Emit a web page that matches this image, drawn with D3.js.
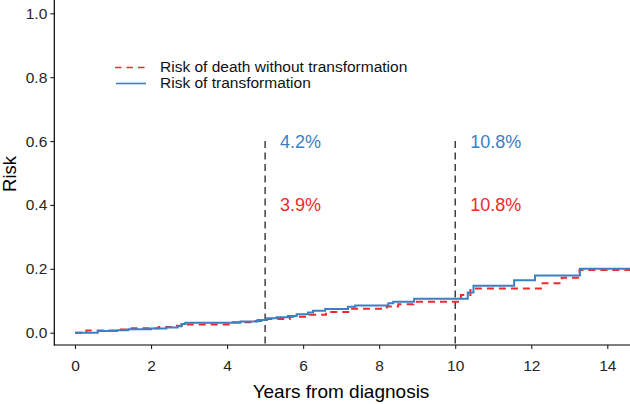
<!DOCTYPE html>
<html>
<head>
<meta charset="utf-8">
<script src="https://cdn.jsdelivr.net/npm/d3@7/dist/d3.min.js"></script>
<style>
  html, body { margin: 0; padding: 0; background: #fff; }
  svg { display: block; font-family: "Liberation Sans", Arial, sans-serif; }
</style>
</head>
<body>
<svg id="chart" width="630" height="404"></svg>
<script>
// ---- data ----
const transTimes = [0, 0.6, 1.1, 1.4, 2.0, 2.4, 2.7, 2.8, 2.9, 4.35, 4.8, 5.04, 5.3, 5.6, 5.83, 6.13, 6.26, 6.58, 7.18, 7.37, 8.24, 8.37, 8.92, 10.33, 10.48, 11.55, 12.1, 13.28, 14.6];
const transRisk  = [0, 0.005, 0.008, 0.011, 0.013, 0.016, 0.020, 0.027, 0.031, 0.035, 0.040, 0.045, 0.048, 0.052, 0.058, 0.063, 0.069, 0.074, 0.081, 0.085, 0.092, 0.097, 0.106, 0.126, 0.147, 0.164, 0.179, 0.200, 0.200];
const deathTimes = [0, 0.3, 1.1, 1.45, 2.2, 2.6, 2.85, 4.15, 4.75, 5.05, 5.65, 6.05, 6.6, 7.25, 8.2, 8.5, 8.9, 10.15, 10.4, 12.3, 12.8, 13.27, 14.6];
const deathRisk  = [0, 0.007, 0.010, 0.014, 0.018, 0.022, 0.026, 0.033, 0.037, 0.043, 0.050, 0.056, 0.065, 0.075, 0.082, 0.089, 0.097, 0.118, 0.138, 0.155, 0.172, 0.196, 0.196];
const xTicks = [0, 2, 4, 6, 8, 10, 12, 14];
const yTicks = [0, 0.2, 0.4, 0.6, 0.8, 1.0];
const markerYears = [5, 10];
const markerTop = 0.6;
const transLabels = ["4.2%", "10.8%"];
const deathLabels = ["3.9%", "10.8%"];
const seriesNames = ["Risk of death without transformation", "Risk of transformation"];

// ---- styles ----
const blue = "#3b80c3";
const red = "#ee2a2a";

const svg = d3.select("#chart");
const x = d3.scaleLinear().domain([0, 14]).range([75, 607.3]);
const y = d3.scaleLinear().domain([0, 1]).range([332.7, 13.3]);
const axisLeftX = 54.3, axisBottomY = 345;

// axes
const xAxis = svg.append("g").attr("transform", `translate(0,${axisBottomY})`)
  .call(d3.axisBottom(x).tickValues(xTicks).tickSize(4).tickPadding(3).tickFormat(d3.format("d")));
const yAxis = svg.append("g").attr("transform", `translate(${axisLeftX},0)`)
  .call(d3.axisLeft(y).tickValues(yTicks).tickSize(4).tickPadding(3).tickFormat(d3.format(".1f")));
[xAxis, yAxis].forEach(g => {
  g.select(".domain").remove();
  g.selectAll(".tick line").attr("stroke", "#222").attr("stroke-width", 1.1);
  g.selectAll(".tick text").attr("fill", "#262626").style("font-size", "15.5px")
    .style("font-family", '"Liberation Sans", Arial, sans-serif');
});
xAxis.selectAll(".tick text").attr("dy", "1.25em");
svg.append("line").attr("x1", axisLeftX).attr("x2", axisLeftX).attr("y1", 0).attr("y2", axisBottomY + 0.5)
  .attr("stroke", "#000").attr("stroke-width", 1.2);
svg.append("line").attr("x1", axisLeftX - 0.5).attr("x2", 630).attr("y1", axisBottomY).attr("y2", axisBottomY)
  .attr("stroke", "#000").attr("stroke-width", 1.2);

// axis titles
svg.append("text").attr("x", 341).attr("y", 398).attr("text-anchor", "middle")
  .style("font-size", "19px").attr("fill", "#000").text("Years from diagnosis");
svg.append("text").attr("transform", `translate(15.5,${(y(0) + y(1)) / 2 + 1}) rotate(-90)`)
  .attr("text-anchor", "middle").style("font-size", "18.5px").attr("fill", "#000").text("Risk");

// vertical dashed markers
svg.selectAll(".marker").data(markerYears).join("line")
  .attr("x1", d => x(d)).attr("x2", d => x(d))
  .attr("y1", y(markerTop)).attr("y2", axisBottomY - 1)
  .attr("stroke", "#222").attr("stroke-width", 1.3).attr("stroke-dasharray", "7,4.5");

// step lines
const line = d3.line().curve(d3.curveStepAfter).x(d => x(d[0])).y(d => y(d[1]));
const deathData = deathTimes.map((t, i) => [t, deathRisk[i]]);
const transData = transTimes.map((t, i) => [t, transRisk[i]]);
svg.append("path").attr("d", line(deathData)).attr("fill", "none")
  .attr("stroke", red).attr("stroke-width", 2).attr("stroke-dasharray", "7,5");
svg.append("path").attr("d", line(transData)).attr("fill", "none")
  .attr("stroke", blue).attr("stroke-width", 2);

// annotations
svg.selectAll(".tlab").data(markerYears).join("text")
  .attr("x", d => x(d) + 15).attr("y", y(0.6)).attr("dy", "0.36em")
  .style("font-size", "18px").attr("fill", blue).text((d, i) => transLabels[i]);
svg.selectAll(".dlab").data(markerYears).join("text")
  .attr("x", d => x(d) + 15).attr("y", y(0.4)).attr("dy", "0.36em")
  .style("font-size", "18px").attr("fill", red).text((d, i) => deathLabels[i]);

// legend
const leg = svg.append("g");
leg.append("line").attr("x1", 115).attr("x2", 146).attr("y1", 67.5).attr("y2", 67.5)
  .attr("stroke", red).attr("stroke-width", 1.6).attr("stroke-dasharray", "6.5,5");
leg.append("line").attr("x1", 116).attr("x2", 146).attr("y1", 83.5).attr("y2", 83.5)
  .attr("stroke", blue).attr("stroke-width", 1.6);
leg.append("text").attr("x", 160).attr("y", 67).attr("dy", "0.35em")
  .style("font-size", "15.5px").attr("fill", "#111").text(seriesNames[0]);
leg.append("text").attr("x", 160).attr("y", 83).attr("dy", "0.35em")
  .style("font-size", "15.5px").attr("fill", "#111").text(seriesNames[1]);
</script>
</body>
</html>
